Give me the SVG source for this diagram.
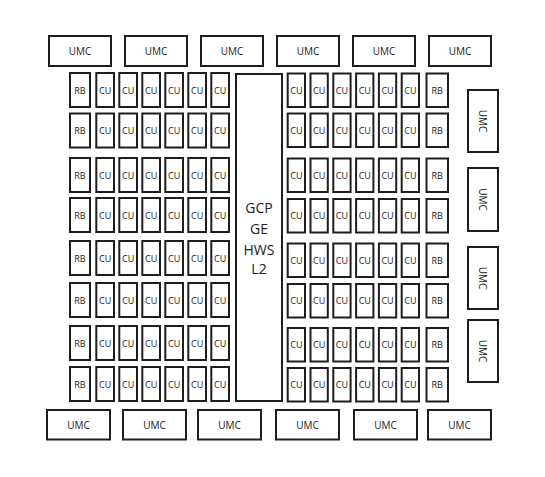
<svg xmlns="http://www.w3.org/2000/svg" width="545" height="477" viewBox="0 0 545 477">
<style>
rect{fill:#fff;stroke:#1e1e1e;stroke-width:2}
text{font-family:"Open Sans","Liberation Sans",sans-serif;font-size:10px;fill:#222;text-anchor:middle;dominant-baseline:central}
.a text{font-size:9px}
.big{font-size:14px}
</style>
<rect x="0" y="0" width="545" height="477" style="stroke:none"/>
<g id="umc-top">
<g id="umc-t1"><rect x="49" y="36" width="62" height="30"/><text x="80" y="51">UMC</text></g>
<g id="umc-t2"><rect x="125" y="36" width="62" height="30"/><text x="156" y="51">UMC</text></g>
<g id="umc-t3"><rect x="201" y="36" width="62" height="30"/><text x="232" y="51">UMC</text></g>
<g id="umc-t4"><rect x="277" y="36" width="62" height="30"/><text x="308" y="51">UMC</text></g>
<g id="umc-t5"><rect x="353" y="36" width="62" height="30"/><text x="384" y="51">UMC</text></g>
<g id="umc-t6"><rect x="429" y="36" width="62" height="30"/><text x="460" y="51">UMC</text></g>
</g>
<g id="umc-bottom">
<g id="umc-b1"><rect x="47" y="410" width="63" height="29.5"/><text x="78.5" y="424.5">UMC</text></g>
<g id="umc-b2"><rect x="123" y="410" width="63" height="29.5"/><text x="154.5" y="424.5">UMC</text></g>
<g id="umc-b3"><rect x="198" y="410" width="63" height="29.5"/><text x="229.5" y="424.5">UMC</text></g>
<g id="umc-b4"><rect x="276" y="410" width="63" height="29.5"/><text x="307.5" y="424.5">UMC</text></g>
<g id="umc-b5"><rect x="354" y="410" width="63" height="29.5"/><text x="385.5" y="424.5">UMC</text></g>
<g id="umc-b6"><rect x="428" y="410" width="63" height="29.5"/><text x="459.5" y="424.5">UMC</text></g>
</g>
<g id="umc-right">
<g id="umc-r1"><rect x="468" y="90" width="30" height="62"/><text transform="translate(483 121) rotate(90)">UMC</text></g>
<g id="umc-r2"><rect x="468" y="168" width="30" height="63"/><text transform="translate(483 199.5) rotate(90)">UMC</text></g>
<g id="umc-r3"><rect x="468" y="247" width="30" height="62"/><text transform="translate(483 278) rotate(90)">UMC</text></g>
<g id="umc-r4"><rect x="468" y="320" width="30" height="62"/><text transform="translate(483 351) rotate(90)">UMC</text></g>
</g>
<g id="center">
<rect x="236" y="74" width="46" height="327"/>
<text class="big" x="259" y="207">GCP</text>
<text class="big" x="259" y="228">GE</text>
<text class="big" x="259" y="249">HWS</text>
<text class="big" x="259" y="268">L2</text>
</g>
<g id="left-array" class="a">
<g id="L1">
<g id="L1-rb"><rect x="70" y="73" width="20" height="34"/><text x="80" y="90">RB</text></g>
<g id="L1-cu1"><rect x="96.3" y="73" width="17.7" height="34"/><text x="105.15" y="90">CU</text></g>
<g id="L1-cu2"><rect x="119.3" y="73" width="17.7" height="34"/><text x="128.15" y="90">CU</text></g>
<g id="L1-cu3"><rect x="142.3" y="73" width="17.7" height="34"/><text x="151.15" y="90">CU</text></g>
<g id="L1-cu4"><rect x="165.3" y="73" width="17.7" height="34"/><text x="174.15" y="90">CU</text></g>
<g id="L1-cu5"><rect x="188.3" y="73" width="17.7" height="34"/><text x="197.15" y="90">CU</text></g>
<g id="L1-cu6"><rect x="211.3" y="73" width="17.7" height="34"/><text x="220.15" y="90">CU</text></g>
</g>
<g id="L2">
<g id="L2-rb"><rect x="70" y="113.5" width="20" height="34"/><text x="80" y="130.5">RB</text></g>
<g id="L2-cu1"><rect x="96.3" y="113.5" width="17.7" height="34"/><text x="105.15" y="130.5">CU</text></g>
<g id="L2-cu2"><rect x="119.3" y="113.5" width="17.7" height="34"/><text x="128.15" y="130.5">CU</text></g>
<g id="L2-cu3"><rect x="142.3" y="113.5" width="17.7" height="34"/><text x="151.15" y="130.5">CU</text></g>
<g id="L2-cu4"><rect x="165.3" y="113.5" width="17.7" height="34"/><text x="174.15" y="130.5">CU</text></g>
<g id="L2-cu5"><rect x="188.3" y="113.5" width="17.7" height="34"/><text x="197.15" y="130.5">CU</text></g>
<g id="L2-cu6"><rect x="211.3" y="113.5" width="17.7" height="34"/><text x="220.15" y="130.5">CU</text></g>
</g>
<g id="L3">
<g id="L3-rb"><rect x="70" y="158" width="20" height="34"/><text x="80" y="175">RB</text></g>
<g id="L3-cu1"><rect x="96.3" y="158" width="17.7" height="34"/><text x="105.15" y="175">CU</text></g>
<g id="L3-cu2"><rect x="119.3" y="158" width="17.7" height="34"/><text x="128.15" y="175">CU</text></g>
<g id="L3-cu3"><rect x="142.3" y="158" width="17.7" height="34"/><text x="151.15" y="175">CU</text></g>
<g id="L3-cu4"><rect x="165.3" y="158" width="17.7" height="34"/><text x="174.15" y="175">CU</text></g>
<g id="L3-cu5"><rect x="188.3" y="158" width="17.7" height="34"/><text x="197.15" y="175">CU</text></g>
<g id="L3-cu6"><rect x="211.3" y="158" width="17.7" height="34"/><text x="220.15" y="175">CU</text></g>
</g>
<g id="L4">
<g id="L4-rb"><rect x="70" y="198" width="20" height="34"/><text x="80" y="215">RB</text></g>
<g id="L4-cu1"><rect x="96.3" y="198" width="17.7" height="34"/><text x="105.15" y="215">CU</text></g>
<g id="L4-cu2"><rect x="119.3" y="198" width="17.7" height="34"/><text x="128.15" y="215">CU</text></g>
<g id="L4-cu3"><rect x="142.3" y="198" width="17.7" height="34"/><text x="151.15" y="215">CU</text></g>
<g id="L4-cu4"><rect x="165.3" y="198" width="17.7" height="34"/><text x="174.15" y="215">CU</text></g>
<g id="L4-cu5"><rect x="188.3" y="198" width="17.7" height="34"/><text x="197.15" y="215">CU</text></g>
<g id="L4-cu6"><rect x="211.3" y="198" width="17.7" height="34"/><text x="220.15" y="215">CU</text></g>
</g>
<g id="L5">
<g id="L5-rb"><rect x="70" y="241" width="20" height="34"/><text x="80" y="258">RB</text></g>
<g id="L5-cu1"><rect x="96.3" y="241" width="17.7" height="34"/><text x="105.15" y="258">CU</text></g>
<g id="L5-cu2"><rect x="119.3" y="241" width="17.7" height="34"/><text x="128.15" y="258">CU</text></g>
<g id="L5-cu3"><rect x="142.3" y="241" width="17.7" height="34"/><text x="151.15" y="258">CU</text></g>
<g id="L5-cu4"><rect x="165.3" y="241" width="17.7" height="34"/><text x="174.15" y="258">CU</text></g>
<g id="L5-cu5"><rect x="188.3" y="241" width="17.7" height="34"/><text x="197.15" y="258">CU</text></g>
<g id="L5-cu6"><rect x="211.3" y="241" width="17.7" height="34"/><text x="220.15" y="258">CU</text></g>
</g>
<g id="L6">
<g id="L6-rb"><rect x="70" y="283" width="20" height="34"/><text x="80" y="300">RB</text></g>
<g id="L6-cu1"><rect x="96.3" y="283" width="17.7" height="34"/><text x="105.15" y="300">CU</text></g>
<g id="L6-cu2"><rect x="119.3" y="283" width="17.7" height="34"/><text x="128.15" y="300">CU</text></g>
<g id="L6-cu3"><rect x="142.3" y="283" width="17.7" height="34"/><text x="151.15" y="300">CU</text></g>
<g id="L6-cu4"><rect x="165.3" y="283" width="17.7" height="34"/><text x="174.15" y="300">CU</text></g>
<g id="L6-cu5"><rect x="188.3" y="283" width="17.7" height="34"/><text x="197.15" y="300">CU</text></g>
<g id="L6-cu6"><rect x="211.3" y="283" width="17.7" height="34"/><text x="220.15" y="300">CU</text></g>
</g>
<g id="L7">
<g id="L7-rb"><rect x="70" y="326" width="20" height="34"/><text x="80" y="343">RB</text></g>
<g id="L7-cu1"><rect x="96.3" y="326" width="17.7" height="34"/><text x="105.15" y="343">CU</text></g>
<g id="L7-cu2"><rect x="119.3" y="326" width="17.7" height="34"/><text x="128.15" y="343">CU</text></g>
<g id="L7-cu3"><rect x="142.3" y="326" width="17.7" height="34"/><text x="151.15" y="343">CU</text></g>
<g id="L7-cu4"><rect x="165.3" y="326" width="17.7" height="34"/><text x="174.15" y="343">CU</text></g>
<g id="L7-cu5"><rect x="188.3" y="326" width="17.7" height="34"/><text x="197.15" y="343">CU</text></g>
<g id="L7-cu6"><rect x="211.3" y="326" width="17.7" height="34"/><text x="220.15" y="343">CU</text></g>
</g>
<g id="L8">
<g id="L8-rb"><rect x="70" y="367" width="20" height="34"/><text x="80" y="384">RB</text></g>
<g id="L8-cu1"><rect x="96.3" y="367" width="17.7" height="34"/><text x="105.15" y="384">CU</text></g>
<g id="L8-cu2"><rect x="119.3" y="367" width="17.7" height="34"/><text x="128.15" y="384">CU</text></g>
<g id="L8-cu3"><rect x="142.3" y="367" width="17.7" height="34"/><text x="151.15" y="384">CU</text></g>
<g id="L8-cu4"><rect x="165.3" y="367" width="17.7" height="34"/><text x="174.15" y="384">CU</text></g>
<g id="L8-cu5"><rect x="188.3" y="367" width="17.7" height="34"/><text x="197.15" y="384">CU</text></g>
<g id="L8-cu6"><rect x="211.3" y="367" width="17.7" height="34"/><text x="220.15" y="384">CU</text></g>
</g>
</g>
<g id="right-array" class="a">
<g id="R1">
<g id="R1-cu1"><rect x="287.7" y="73.5" width="17.3" height="33.5"/><text x="296.35" y="90.25">CU</text></g>
<g id="R1-cu2"><rect x="310.5" y="73.5" width="17.3" height="33.5"/><text x="319.15" y="90.25">CU</text></g>
<g id="R1-cu3"><rect x="333.3" y="73.5" width="17.3" height="33.5"/><text x="341.95" y="90.25">CU</text></g>
<g id="R1-cu4"><rect x="356.1" y="73.5" width="17.3" height="33.5"/><text x="364.75" y="90.25">CU</text></g>
<g id="R1-cu5"><rect x="378.9" y="73.5" width="17.3" height="33.5"/><text x="387.55" y="90.25">CU</text></g>
<g id="R1-cu6"><rect x="401.7" y="73.5" width="17.3" height="33.5"/><text x="410.35" y="90.25">CU</text></g>
<g id="R1-rb"><rect x="426.5" y="73.5" width="21.5" height="33.5"/><text x="437.25" y="90.25">RB</text></g>
</g>
<g id="R2">
<g id="R2-cu1"><rect x="287.7" y="113.5" width="17.3" height="33.5"/><text x="296.35" y="130.25">CU</text></g>
<g id="R2-cu2"><rect x="310.5" y="113.5" width="17.3" height="33.5"/><text x="319.15" y="130.25">CU</text></g>
<g id="R2-cu3"><rect x="333.3" y="113.5" width="17.3" height="33.5"/><text x="341.95" y="130.25">CU</text></g>
<g id="R2-cu4"><rect x="356.1" y="113.5" width="17.3" height="33.5"/><text x="364.75" y="130.25">CU</text></g>
<g id="R2-cu5"><rect x="378.9" y="113.5" width="17.3" height="33.5"/><text x="387.55" y="130.25">CU</text></g>
<g id="R2-cu6"><rect x="401.7" y="113.5" width="17.3" height="33.5"/><text x="410.35" y="130.25">CU</text></g>
<g id="R2-rb"><rect x="426.5" y="113.5" width="21.5" height="33.5"/><text x="437.25" y="130.25">RB</text></g>
</g>
<g id="R3">
<g id="R3-cu1"><rect x="287.7" y="158.5" width="17.3" height="33.5"/><text x="296.35" y="175.25">CU</text></g>
<g id="R3-cu2"><rect x="310.5" y="158.5" width="17.3" height="33.5"/><text x="319.15" y="175.25">CU</text></g>
<g id="R3-cu3"><rect x="333.3" y="158.5" width="17.3" height="33.5"/><text x="341.95" y="175.25">CU</text></g>
<g id="R3-cu4"><rect x="356.1" y="158.5" width="17.3" height="33.5"/><text x="364.75" y="175.25">CU</text></g>
<g id="R3-cu5"><rect x="378.9" y="158.5" width="17.3" height="33.5"/><text x="387.55" y="175.25">CU</text></g>
<g id="R3-cu6"><rect x="401.7" y="158.5" width="17.3" height="33.5"/><text x="410.35" y="175.25">CU</text></g>
<g id="R3-rb"><rect x="426.5" y="158.5" width="21.5" height="33.5"/><text x="437.25" y="175.25">RB</text></g>
</g>
<g id="R4">
<g id="R4-cu1"><rect x="287.7" y="199" width="17.3" height="33.5"/><text x="296.35" y="215.75">CU</text></g>
<g id="R4-cu2"><rect x="310.5" y="199" width="17.3" height="33.5"/><text x="319.15" y="215.75">CU</text></g>
<g id="R4-cu3"><rect x="333.3" y="199" width="17.3" height="33.5"/><text x="341.95" y="215.75">CU</text></g>
<g id="R4-cu4"><rect x="356.1" y="199" width="17.3" height="33.5"/><text x="364.75" y="215.75">CU</text></g>
<g id="R4-cu5"><rect x="378.9" y="199" width="17.3" height="33.5"/><text x="387.55" y="215.75">CU</text></g>
<g id="R4-cu6"><rect x="401.7" y="199" width="17.3" height="33.5"/><text x="410.35" y="215.75">CU</text></g>
<g id="R4-rb"><rect x="426.5" y="199" width="21.5" height="33.5"/><text x="437.25" y="215.75">RB</text></g>
</g>
<g id="R5">
<g id="R5-cu1"><rect x="287.7" y="243.5" width="17.3" height="33.5"/><text x="296.35" y="260.25">CU</text></g>
<g id="R5-cu2"><rect x="310.5" y="243.5" width="17.3" height="33.5"/><text x="319.15" y="260.25">CU</text></g>
<g id="R5-cu3"><rect x="333.3" y="243.5" width="17.3" height="33.5"/><text x="341.95" y="260.25">CU</text></g>
<g id="R5-cu4"><rect x="356.1" y="243.5" width="17.3" height="33.5"/><text x="364.75" y="260.25">CU</text></g>
<g id="R5-cu5"><rect x="378.9" y="243.5" width="17.3" height="33.5"/><text x="387.55" y="260.25">CU</text></g>
<g id="R5-cu6"><rect x="401.7" y="243.5" width="17.3" height="33.5"/><text x="410.35" y="260.25">CU</text></g>
<g id="R5-rb"><rect x="426.5" y="243.5" width="21.5" height="33.5"/><text x="437.25" y="260.25">RB</text></g>
</g>
<g id="R6">
<g id="R6-cu1"><rect x="287.7" y="284" width="17.3" height="33.5"/><text x="296.35" y="300.75">CU</text></g>
<g id="R6-cu2"><rect x="310.5" y="284" width="17.3" height="33.5"/><text x="319.15" y="300.75">CU</text></g>
<g id="R6-cu3"><rect x="333.3" y="284" width="17.3" height="33.5"/><text x="341.95" y="300.75">CU</text></g>
<g id="R6-cu4"><rect x="356.1" y="284" width="17.3" height="33.5"/><text x="364.75" y="300.75">CU</text></g>
<g id="R6-cu5"><rect x="378.9" y="284" width="17.3" height="33.5"/><text x="387.55" y="300.75">CU</text></g>
<g id="R6-cu6"><rect x="401.7" y="284" width="17.3" height="33.5"/><text x="410.35" y="300.75">CU</text></g>
<g id="R6-rb"><rect x="426.5" y="284" width="21.5" height="33.5"/><text x="437.25" y="300.75">RB</text></g>
</g>
<g id="R7">
<g id="R7-cu1"><rect x="287.7" y="328" width="17.3" height="33.5"/><text x="296.35" y="344.75">CU</text></g>
<g id="R7-cu2"><rect x="310.5" y="328" width="17.3" height="33.5"/><text x="319.15" y="344.75">CU</text></g>
<g id="R7-cu3"><rect x="333.3" y="328" width="17.3" height="33.5"/><text x="341.95" y="344.75">CU</text></g>
<g id="R7-cu4"><rect x="356.1" y="328" width="17.3" height="33.5"/><text x="364.75" y="344.75">CU</text></g>
<g id="R7-cu5"><rect x="378.9" y="328" width="17.3" height="33.5"/><text x="387.55" y="344.75">CU</text></g>
<g id="R7-cu6"><rect x="401.7" y="328" width="17.3" height="33.5"/><text x="410.35" y="344.75">CU</text></g>
<g id="R7-rb"><rect x="426.5" y="328" width="21.5" height="33.5"/><text x="437.25" y="344.75">RB</text></g>
</g>
<g id="R8">
<g id="R8-cu1"><rect x="287.7" y="368" width="17.3" height="33.5"/><text x="296.35" y="384.75">CU</text></g>
<g id="R8-cu2"><rect x="310.5" y="368" width="17.3" height="33.5"/><text x="319.15" y="384.75">CU</text></g>
<g id="R8-cu3"><rect x="333.3" y="368" width="17.3" height="33.5"/><text x="341.95" y="384.75">CU</text></g>
<g id="R8-cu4"><rect x="356.1" y="368" width="17.3" height="33.5"/><text x="364.75" y="384.75">CU</text></g>
<g id="R8-cu5"><rect x="378.9" y="368" width="17.3" height="33.5"/><text x="387.55" y="384.75">CU</text></g>
<g id="R8-cu6"><rect x="401.7" y="368" width="17.3" height="33.5"/><text x="410.35" y="384.75">CU</text></g>
<g id="R8-rb"><rect x="426.5" y="368" width="21.5" height="33.5"/><text x="437.25" y="384.75">RB</text></g>
</g>
</g>
<g id="connectors"/>
</svg>
